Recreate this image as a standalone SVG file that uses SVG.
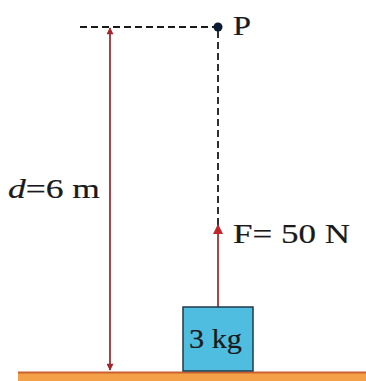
<svg xmlns="http://www.w3.org/2000/svg" width="366" height="381" viewBox="0 0 366 381">
<style>
.t{font-family:"Liberation Serif","Times New Roman",serif;fill:#1a1a1a;stroke:#1a1a1a;stroke-width:0.2;}
.dash{stroke:#1a1a1a;stroke-width:1.8;stroke-dasharray:7,4;fill:none;}
.red{stroke:#9e2229;stroke-width:1.7;fill:none;}
</style>
<defs>
<marker id="ah" viewBox="0 0 10 10" refX="9" refY="5" markerWidth="8" markerHeight="7" markerUnits="userSpaceOnUse" orient="auto-start-reverse">
<path d="M0,0 L10,5 L0,10 z" fill="#a3262c"/>
</marker>
<marker id="ahF" viewBox="0 0 10 10" refX="9" refY="5" markerWidth="11" markerHeight="10" markerUnits="userSpaceOnUse" orient="auto">
<path d="M0,0 L10,5 L0,10 z" fill="#c0262c"/>
</marker>
</defs>
<rect width="366" height="381" fill="#ffffff"/>
<g id="ground">
<rect x="18" y="372" width="348" height="9" fill="#f4a048"/>
<rect x="18" y="371.5" width="348" height="2" fill="#c9602e"/>
</g>
<g id="connectors">
<line class="dash" x1="80" y1="27" x2="214" y2="27"/>
<line class="dash" x1="218" y1="31" x2="218" y2="226"/>
<line class="red" x1="110" y1="28" x2="110" y2="370" marker-start="url(#ah)" marker-end="url(#ah)"/>
<line class="red" x1="218" y1="307" x2="218" y2="225" marker-end="url(#ahF)"/>
</g>
<g id="P">
<circle cx="218" cy="27" r="4.5" fill="#0d1a33"/>
<text class="t" x="233" y="35" font-size="27" textLength="18" lengthAdjust="spacingAndGlyphs">P</text>
</g>
<g id="block">
<rect x="183" y="307" width="70" height="64" fill="#4fbde0" stroke="#1f3a4a" stroke-width="1.5"/>
<text class="t" x="189" y="348" font-size="27" textLength="53" lengthAdjust="spacingAndGlyphs">3 kg</text>
</g>
<g id="force-label">
<text class="t" x="233" y="243" font-size="28" textLength="117" lengthAdjust="spacingAndGlyphs">F= 50 N</text>
</g>
<g id="distance-label">
<text class="t" x="8" y="198" font-size="28" textLength="92" lengthAdjust="spacingAndGlyphs"><tspan font-style="italic">d</tspan>=6 m</text>
</g>
</svg>
